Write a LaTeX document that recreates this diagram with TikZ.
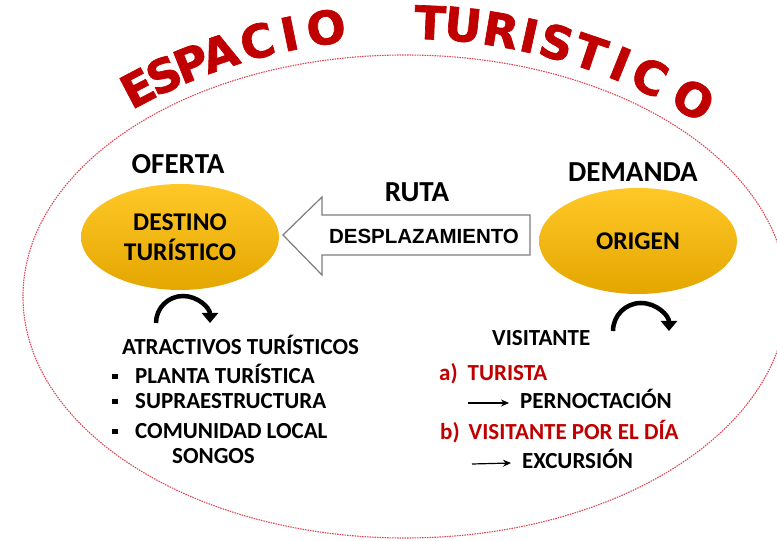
\documentclass[tikz,border=0pt]{standalone}
\usepackage{fontspec}
\setmainfont{Carlito}
\newfontfamily\titulofont{DejaVu Sans}[BoldFeatures={FakeBold=1.5}]
\newfontfamily\flechafont{Liberation Sans}
\usetikzlibrary{arrows.meta}
\usetikzlibrary{shapes.geometric}
\usetikzlibrary{positioning}
\definecolor{rojo}{RGB}{192,0,0}
\definecolor{punteado}{RGB}{222,70,82}
\definecolor{oroclaro}{RGB}{255,200,40}
\definecolor{oro}{RGB}{255,192,0}
\definecolor{orooscuro}{RGB}{228,166,0}
\definecolor{gris}{RGB}{125,125,125}
\newcommand{\vineta}{\rule[4.5pt]{5.5pt}{5.5pt}\hspace{17.5pt}}

\begin{document}
\begin{tikzpicture}[x=1pt,y=1pt,
  polo/.style={ellipse, minimum width=198, minimum height=106, top color=oroclaro, middle color=oro, bottom color=orooscuro, align=center, font=\bfseries\fontsize{25.5}{30}\selectfont},
  cabecera/.style={font=\bfseries\fontsize{29}{32}\selectfont},
  lista/.style={anchor=base west, inner sep=0, font=\bfseries\fontsize{23}{26}\selectfont},
  letra/.style={text=rojo, inner sep=0, font=\titulofont\bfseries\fontsize{46}{46}\selectfont},
  giro/.style={line width=4.5, -{Triangle[width=16pt,length=10pt]}},
  flechita/.style={line width=1.2, -{Stealth[length=8pt,width=7pt]}}]
\useasboundingbox (0,0) rectangle (777,541);

% espacio turistico
\draw[punteado, line width=1.1, dash pattern=on 1.5pt off 1pt] (405,244.5) ellipse [x radius=382, y radius=241.5];

\foreach \l/\ang [count=\i] in {E/117.7,S/114.8,P/111.8,A/108.8,C/104.9,I/101.6,O/97.9,T/87.5,U/84.2,R/80.4,I/77.5,S/74.7,T/71.2,I/68.0,C/64.8,O/59.9}{
\pgfmathsetmacro{\giroletra}{\ang-90}
\node[letra, rotate=\giroletra] (t\i) at ([shift={(\ang:575)}]405,-56) {\l};
}

% oferta y demanda
\node[polo] (destino) at (180,304) {DESTINO\\TURÍSTICO};
\node[polo] (origen) at (638,300) {ORIGEN};
\node[cabecera] (oferta) at (178,377) {OFERTA};
\node[cabecera] (demanda) at (633,369) {DEMANDA};

% ruta
\node[cabecera] (ruta) at (417,349) {RUTA};
\draw[gris, line width=1.2, fill=white] (283,306) -- (322,344) -- (322,326) -- (530,326) -- (530,286) -- (322,286) -- (322,266) -- cycle;
\node[font=\flechafont\bfseries\fontsize{20.5}{22}\selectfont] (desplaz) at (424,305) {DESPLAZAMIENTO};

\draw[giro] (156,218) arc[start angle=180, end angle=0, radius=27];
\draw[giro] (613,210) arc[start angle=180, end angle=0, radius=28];

% lado de la oferta
\node[lista] (atractivos) at (122,186) {ATRACTIVOS TURÍSTICOS};
\node[lista] (planta) at (112,157) {\vineta PLANTA TURÍSTICA};
\node[lista] (supra) at (112,132) {\vineta SUPRAESTRUCTURA};
\node[lista] (comunidad) at (112,102) {\vineta COMUNIDAD LOCAL};
\node[lista] (songos) at (172,77) {SONGOS};

% lado de la demanda
\node[lista] (visitante) at (492,195) {VISITANTE};
\node[lista, text=rojo] (turista) at (439,160) {a)\hspace{10pt}TURISTA};
\node[lista] (pernoc) at (520,132) {PERNOCTACIÓN};
\node[lista, text=rojo] (pordia) at (440,101) {b)\hspace{9pt}VISITANTE POR EL DÍA};
\node[lista] (excur) at (522,72) {EXCURSIÓN};

\coordinate (ini1) at (468,138);
\coordinate (ini2) at (472,77);
\draw[flechita] (ini1) -- ([xshift=-11pt, yshift=6pt]pernoc.base west);
\draw[flechita] (ini2) -- ([xshift=-11pt, yshift=6pt]excur.base west);

\end{tikzpicture}
\end{document}
